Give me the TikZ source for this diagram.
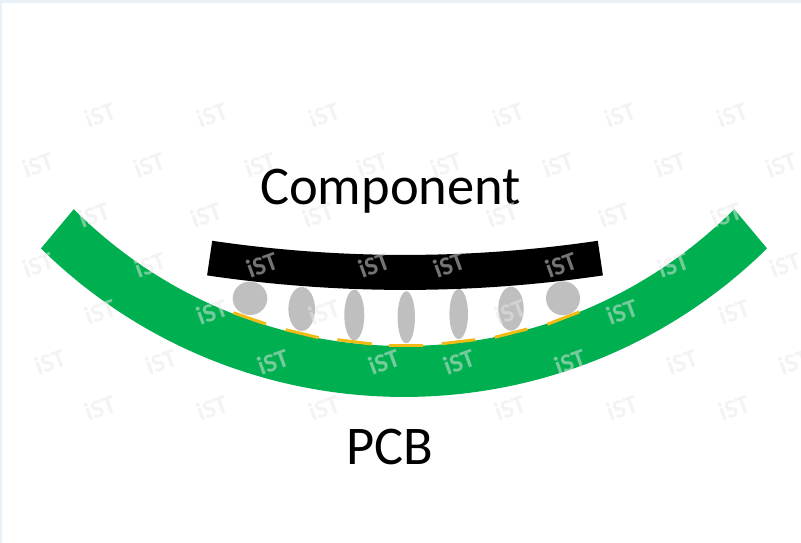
\documentclass[tikz,border=0pt]{standalone}
\usepackage{fontspec}
\usetikzlibrary{calc}
\setmainfont{Carlito}
\definecolor{pcbgreen}{RGB}{0, 176, 80}
\definecolor{ballgray}{RGB}{191, 191, 191}
\definecolor{padgold}{RGB}{242, 186, 20}
\definecolor{edgeblue}{RGB}{232, 240, 248}
\definecolor{markgray}{RGB}{232, 232, 232}
\tikzset{
  wmark/.style={font=\fontsize{26}{26}\selectfont\bfseries, text=markgray, text opacity=0.5, rotate=20, inner sep=0pt},
  biglabel/.style={font=\fontsize{54.5}{54.5}\selectfont, text=black, inner sep=0pt, anchor=base},
  pad/.style={padgold, line width=3pt}
}
\begin{document}
\begin{tikzpicture}[x=1pt,y=1pt]
\useasboundingbox (0,0) rectangle (801,543);
% Page edge
\fill[edgeblue] (0,0) rectangle (801,543);
\fill[white] (1.5,0) rectangle (801,540);
% PCB
\fill[pcbgreen] (404,664) ++(225:467) arc (225:315:467) -- ($(404,664)+(314.5:518)$) arc (314.5:225.5:518) -- cycle;
% Component
\fill[black] (405,1608) ++(261.6:1320) arc (261.6:278.4:1320) -- ++(278.4:35) arc (278.4:261.6:1355) -- cycle;
% Solder balls
\foreach \cx/\cy/\rx/\ry in {250/244.7/17.3/16.7, 301.7/234/13.3/22, 354.3/228/10/25.3, 406.3/225.7/8.7/26,
                             458.7/229/9.3/25, 511/234.3/12.7/22, 563/244.7/17/17} {
    \fill[ballgray] (\cx,\cy) ellipse ({\rx} and {\ry});
}
% Pads
\foreach \a/\b in {{(233.3,230.3)}/{(266,219)}, {(285.7,213.3)}/{(318.7,205.3)}, {(337.3,203.3)}/{(372,199)},
                   {(389.3,197.7)}/{(423.3,197.7)}, {(441.7,199.3)}/{(475.3,203.3)},
                   {(494.7,205.7)}/{(527.3,214)}, {(547.3,218.7)}/{(579.3,231)}} {
    \draw[pad] \a -- \b;
}
% Labels
\node[biglabel] (component) at (390.5,338) {Component};
\node[biglabel] (pcb) at (390,78) {PCB};
% Watermark rows
\foreach \wy/\xlist in {428/{100,212,324,508,620,732}, 378/{38,149,260,372,446,558,670,781},
                        328/{94,206,318,502,614,726}, 278/{38,150,262,374,449,561,673,785},
                        231/{100,212,324,510,622,734}, 181/{50,161,273,384,459,570,682,794},
                        135/{100,212,324,510,622,734}} {
    \foreach \wx in \xlist {
        \node[wmark] (w\wx-\wy) at (\wx,\wy) {iST};
    }
}
\end{tikzpicture}
\end{document}
